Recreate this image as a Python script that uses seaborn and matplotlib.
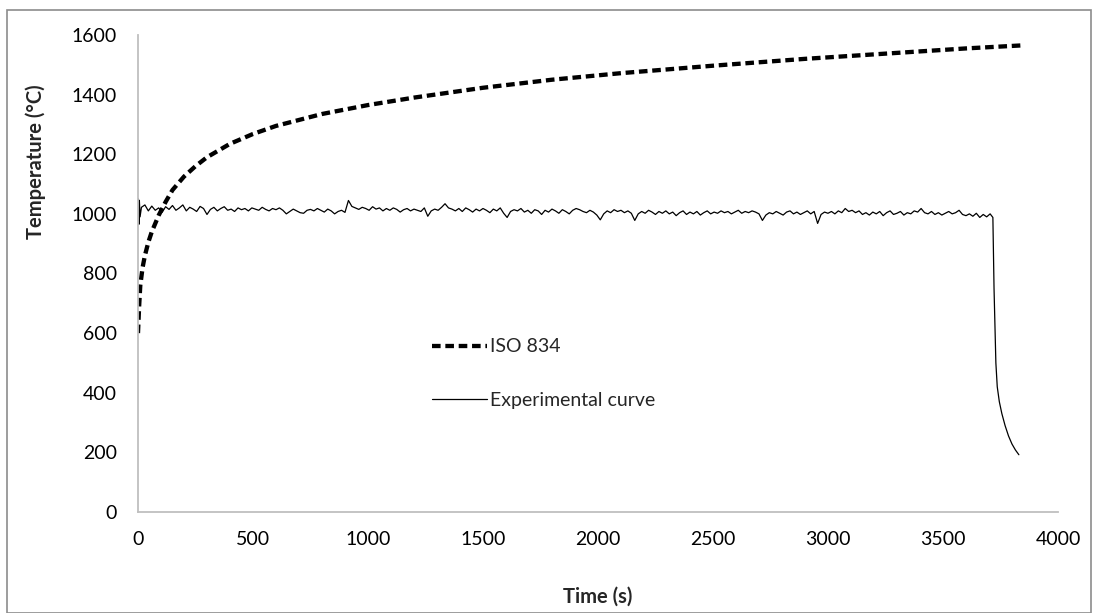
import numpy as np
import pandas as pd
import matplotlib
matplotlib.use("Agg")
import matplotlib.pyplot as plt
import seaborn as sns
from matplotlib.patches import Rectangle

# ISO 834 standard curve
iso_time = [0, 5, 10, 20, 30, 45, 60, 90, 120, 150, 200, 250, 300, 400, 500,
            600, 800, 1000, 1200, 1500, 1800, 2100, 2500, 2900, 3300, 3600, 3840]
iso_temp = [600, 690, 760, 820, 860, 905, 940, 995, 1040, 1080, 1125, 1160, 1190,
            1235, 1268, 1295, 1335, 1365, 1390, 1423, 1450, 1472, 1497, 1520,
            1540, 1555, 1565]

# Experimental furnace curve: first seconds, steady part (every 15 s), cool-down
start_time = [0, 2, 4, 6, 9]
start_temp = [975, 1050, 965, 1045, 990]

steady_time = np.arange(15, 3706, 15)
steady_temp = [
    1022, 1030, 1010, 1026, 1012, 1020, 1005, 1024, 1015, 1028,
    1012, 1020, 1030, 1010, 1022, 1016, 1008, 1025, 1018, 998,
    1015, 1022, 1010, 1018, 1024, 1012, 1016, 1008, 1020, 1014,
    1018, 1010, 1020, 1016, 1012, 1022, 1015, 1010, 1018, 1014,
    1020, 1012, 1000, 1008, 1016, 1010, 1004, 1002, 1012, 1015,
    1010, 1018, 1012, 1006, 1016, 1010, 1000, 1008, 1012, 1005,
    1045, 1025, 1020, 1015, 1022, 1018, 1012, 1024, 1016, 1020,
    1010, 1018, 1012, 1020, 1015, 1006, 1014, 1018, 1010, 1016,
    1012, 1008, 1020, 992, 1010, 1016, 1012, 1022, 1034, 1020,
    1016, 1010, 1018, 1008, 1020, 1014, 1006, 1016, 1010, 1018,
    1012, 1004, 1016, 1010, 1020, 1002, 988, 1008, 1014, 1010,
    1018, 1006, 1012, 1002, 1014, 1010, 998, 1012, 1006, 1016,
    1010, 1002, 1014, 1008, 1000, 1012, 1018, 1014, 1008, 1004,
    1012, 1006, 996, 980, 1000, 1010, 1004, 1014, 1008, 1012,
    1004, 1010, 1002, 978, 1000, 1008, 1002, 1012, 1006, 998,
    1008, 1002, 1010, 1000, 1006, 994, 1004, 1010, 998, 1006,
    1000, 1008, 996, 1004, 1010, 1000, 1006, 1002, 1010, 1004,
    1008, 1000, 1006, 1012, 1002, 1008, 1004, 1010, 1006, 1000,
    978, 996, 1004, 1000, 1008, 1002, 996, 1006, 1010, 1000,
    1006, 998, 1004, 1010, 1000, 1008, 968, 998, 1006, 1002,
    1008, 1000, 1010, 1004, 1018, 1008, 1012, 1004, 1010, 998,
    1004, 996, 1006, 1000, 1008, 994, 1004, 1010, 998, 1002,
    1008, 996, 1004, 1000, 1010, 1006, 1018, 1004, 1000, 1008,
    998, 1004, 996, 1002, 1008, 1000, 1004, 1012, 998, 994,
    1000, 992, 1002, 988, 998, 990, 1000,
]

drop_time = [3717, 3719, 3722, 3726, 3730, 3736, 3745, 3756, 3770, 3785, 3800, 3815, 3830]
drop_temp = [988, 900, 750, 620, 500, 420, 370, 330, 290, 255, 228, 208, 192]

exp = pd.DataFrame({
    "time": np.concatenate([start_time, steady_time, drop_time]),
    "temp": np.concatenate([start_temp, steady_temp, drop_temp]),
})
iso = pd.DataFrame({"time": iso_time, "temp": iso_temp})

sns.set_style("white")
plt.rcParams["font.family"] = ["Lato", "DejaVu Sans"]

fig = plt.figure(figsize=(10.96, 6.13), dpi=100)
ax = fig.add_axes([0.1259, 0.1648, 0.8394, 0.7781])

sns.lineplot(data=iso, x="time", y="temp", ax=ax, color="black", lw=3.1,
             linestyle=(0, (2.0, 1.1)), estimator=None, label="ISO 834")
sns.lineplot(data=exp, x="time", y="temp", ax=ax, color="black", lw=0.9,
             estimator=None, label="Experimental curve")

ax.set_xlim(0, 4000)
ax.set_ylim(0, 1600)
ax.set_xticks(range(0, 4001, 500))
ax.set_yticks(range(0, 1601, 200))
ax.tick_params(axis="both", length=0, labelsize=14, colors="black")
ax.tick_params(axis="y", pad=15)
ax.tick_params(axis="x", pad=14)

for side in ["top", "right"]:
    ax.spines[side].set_visible(False)
for side in ["left", "bottom"]:
    ax.spines[side].set_color("#bfbfbf")
    ax.spines[side].set_linewidth(1.3)

ax.set_xlabel("Time (s)", fontsize=14.5, fontweight="bold")
ax.set_ylabel("Temperature (°C)", fontsize=14.5, fontweight="bold")
ax.xaxis.set_label_coords(0.5, -0.157)
ax.yaxis.set_label_coords(-0.100, 0.734)

leg = ax.legend(loc="upper left", bbox_to_anchor=(0.3196, 0.364), frameon=False,
                fontsize=14, handlelength=2.85, handletextpad=0.15,
                labelspacing=1.9, borderaxespad=0, borderpad=0)

# outer chart border
fig.patches.append(Rectangle((0.0065, 0.0), 0.989, 0.983, transform=fig.transFigure,
                             fill=False, edgecolor="#8c8c8c", lw=1.2))

fig.savefig("out.png", dpi=100)
